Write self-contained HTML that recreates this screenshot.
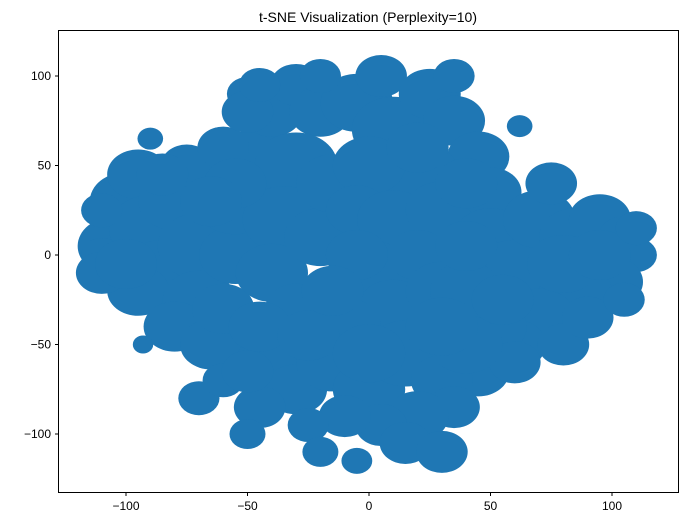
<!DOCTYPE html>
<html><head><meta charset="utf-8">
<style>
body{margin:0;background:#fff;font-family:"Liberation Sans",sans-serif;}
svg text{font-family:"Liberation Sans",sans-serif;}
</style></head>
<body>
<svg id="chart" width="687" height="526" xmlns="http://www.w3.org/2000/svg">
<text x="368" y="22" font-size="14" text-anchor="middle">t-SNE Visualization (Perplexity=10)</text>
<g id="points"></g>
<rect x="58.5" y="30.5" width="620" height="462" fill="none" stroke="#000" stroke-width="1"/>
<g id="axes"></g>
</svg>
<script>
// dense-region blobs: x, y (data units), size (data units)
const blobX=[-105,-100,-95,-90,-85,-95,-80,-75,-70,-70,-80,-65,-60,-55,-55,-45,-60,-40,-30,-20,-30,-35,-40,-30,-20,-15,
-5,5,10,25,35,45,20,0,-5,10,30,50,
0,10,-10,20,30,
50,60,70,75,85,95,105,110,100,85,70,60,80,90,50,45,40,
-40,-30,-15,0,15,30,35,20,5,-10,-25,-45,-50,-20,-5,15,30,
-70,-60,-50,62,-90,-93,-110,-50,60,
-110,-100,-45,-25,0,40,30,55,-5,-15,20,-50,-55,-65,80,95,110,105,40,40,-45,-20,35,-110,-85];
const blobY=[5,30,45,15,-10,-20,30,50,5,-25,-40,-50,-30,0,30,55,60,80,95,80,50,20,-10,-30,10,40,
85,100,70,90,75,55,45,50,25,20,25,35,
-10,-30,-40,0,-20,
10,-10,20,40,10,20,10,0,-15,-20,-35,-50,-50,-35,-40,-65,-20,
-60,-75,-60,-75,-55,-70,-85,-90,-95,-90,-95,-85,-100,-110,-115,-105,-110,
-80,-70,-65,72,65,-50,0,90,-60,
-10,-5,-40,-45,-55,-50,-40,-25,0,-20,60,80,40,30,-5,0,15,-25,40,5,95,100,100,25,45];
const blobR=[12,12,10,14,14,10,12,8,14,12,10,10,10,12,14,12,8,10,8,10,14,14,12,10,12,12,
12,8,14,10,10,10,14,12,10,12,12,10,
14,12,12,10,12,
12,14,12,8,12,10,8,6,10,12,12,10,8,8,12,10,12,
12,10,12,12,14,10,8,10,8,8,6,8,5,5,4,8,8,
6,6,8,3,3,2,6,6,8,
8,10,10,10,12,12,12,10,10,10,10,8,10,10,12,10,6,6,10,10,6,6,6,6,8];
const xTicks=[-100,-50,0,50,100];
const yTicks=[-100,-50,0,50,100];
const xs=v=>369+v*2.43, ys=v=>255-v*1.79;
const NS="http://www.w3.org/2000/svg";
const g=document.getElementById('points');
for(let i=0;i<blobX.length;i++){
  const e=document.createElementNS(NS,'ellipse');
  
  
  e.setAttribute('cx',xs(blobX[i]));e.setAttribute('cy',ys(blobY[i]));
  e.setAttribute('rx',blobR[i]*2.6+5);e.setAttribute('ry',blobR[i]*2.0+5);
  e.setAttribute('fill','#1f77b4');
  g.appendChild(e);
}
const ax=document.getElementById('axes');
xTicks.forEach(t=>{
  const x=xs(t);
  const l=document.createElementNS(NS,'line');
  
  
  l.setAttribute('x1',x);l.setAttribute('x2',x);l.setAttribute('y1',492.5);l.setAttribute('y2',496);l.setAttribute('stroke','#000');
  ax.appendChild(l);
  const tx=document.createElementNS(NS,'text');
  
  
  tx.setAttribute('x',x);tx.setAttribute('y',510);tx.setAttribute('font-size','12');tx.setAttribute('text-anchor','middle');
  tx.textContent=t<0?'\u2212'+(-t):t;ax.appendChild(tx);
});
yTicks.forEach(t=>{
  const y=ys(t);
  const l=document.createElementNS(NS,'line');
  
  
  l.setAttribute('x1',55);l.setAttribute('x2',58.5);l.setAttribute('y1',y);l.setAttribute('y2',y);l.setAttribute('stroke','#000');
  ax.appendChild(l);
  const tx=document.createElementNS(NS,'text');
  
  
  tx.setAttribute('x',51);tx.setAttribute('y',y+4);tx.setAttribute('font-size','12');tx.setAttribute('text-anchor','end');
  tx.textContent=t<0?'\u2212'+(-t):t;ax.appendChild(tx);
});
</script>
</body></html>
